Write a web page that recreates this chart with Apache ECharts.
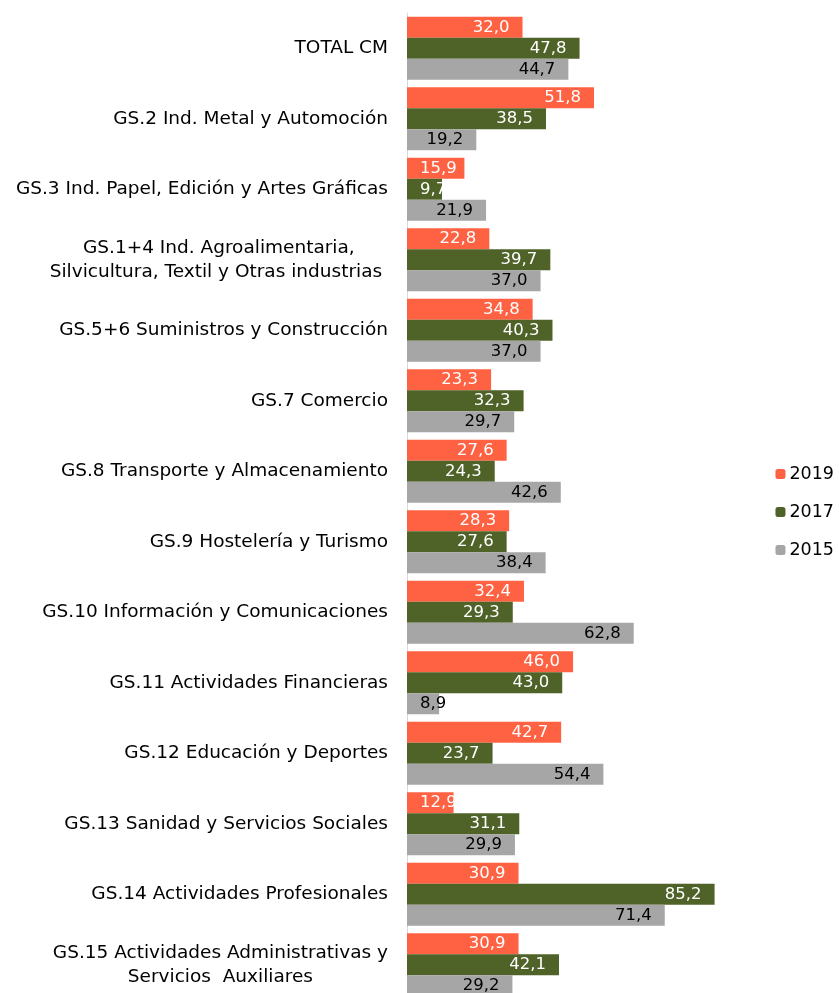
<!DOCTYPE html>
<html>
<head>
<meta charset="utf-8">
<script src="https://cdn.jsdelivr.net/npm/echarts@6/dist/echarts.min.js"></script>
<style>
  html, body { margin: 0; padding: 0; background: #fff; }
  #main { width: 839px; height: 993px; }
</style>
</head>
<body>
<div id="main"></div>
<script>
// categorias, de arriba a abajo
var categories = [
  'TOTAL CM',
  'GS.2 Ind. Metal y Automoción',
  'GS.3 Ind. Papel, Edición y Artes Gráficas',
  'GS.1+4 Ind. Agroalimentaria,\nSilvicultura, Textil y Otras industrias ',
  'GS.5+6 Suministros y Construcción',
  'GS.7 Comercio',
  'GS.8 Transporte y Almacenamiento',
  'GS.9 Hostelería y Turismo',
  'GS.10 Información y Comunicaciones',
  'GS.11 Actividades Financieras',
  'GS.12 Educación y Deportes',
  'GS.13 Sanidad y Servicios Sociales',
  'GS.14 Actividades Profesionales',
  'GS.15 Actividades Administrativas y\nServicios  Auxiliares'
];
var values2019 = [32.0, 51.8, 15.9, 22.8, 34.8, 23.3, 27.6, 28.3, 32.4, 46.0, 42.7, 12.9, 30.9, 30.9];
var values2017 = [47.8, 38.5, 9.7, 39.7, 40.3, 32.3, 24.3, 27.6, 29.3, 43.0, 23.7, 31.1, 85.2, 42.1];
var values2015 = [44.7, 19.2, 21.9, 37.0, 37.0, 29.7, 42.6, 38.4, 62.8, 8.9, 54.4, 29.9, 71.4, 29.2];

var FONT = 'DejaVu Sans';

// barras cortas: la etiqueta se pega al eje (como hace Excel)
function items(vals) {
  return vals.map(function (v) {
    if (v < 16) {
      return { value: v, label: { position: 'insideLeft', distance: 13 } };
    }
    return v;
  });
}

function mkSeries(name, vals, color, labelColor) {
  return {
    name: name,
    type: 'bar',
    barWidth: 21,
    barGap: '0%',
    data: items(vals),
    itemStyle: { color: color },
    label: {
      show: true,
      position: 'insideRight',
      distance: 13,
      color: labelColor,
      fontFamily: FONT,
      fontSize: 16.5,
      formatter: function (p) { return p.value.toFixed(1).replace('.', ','); }
    }
  };
}

var myChart = echarts.init(document.getElementById('main'));
myChart.setOption({
  animation: false,
  textStyle: { fontFamily: FONT },
  legend: {
    orient: 'vertical',
    right: 5,
    top: 465,
    padding: 0,
    itemWidth: 10,
    itemHeight: 10,
    itemGap: 20,
    textStyle: { fontFamily: FONT, fontSize: 17.5, color: '#000', padding: [0, 0, 0, -1] },
    data: ['2019', '2017', '2015']
  },
  grid: { left: 407, top: 13, width: 361, height: 987, outerBoundsMode: 'none' },
  xAxis: {
    type: 'value',
    min: 0,
    max: 100,
    show: false
  },
  yAxis: {
    type: 'category',
    inverse: true,
    data: categories,
    axisLine: { show: true, lineStyle: { color: '#d9d9d9' } },
    axisTick: { show: false },
    axisLabel: {
      margin: 19,
      color: '#000',
      fontFamily: FONT,
      fontSize: 18.5,
      formatter: function (v) {
        return v.split('\n').map(function (s) { return '{c|' + s + '}'; }).join('\n');
      },
      rich: {
        c: { align: 'center', fontFamily: FONT, fontSize: 18.5, color: '#000', lineHeight: 24 }
      }
    }
  },
  series: [
    mkSeries('2019', values2019, '#FF6242', '#fff'),
    mkSeries('2017', values2017, '#4F6228', '#fff'),
    mkSeries('2015', values2015, '#A6A6A6', '#000')
  ]
});
</script>
</body>
</html>
